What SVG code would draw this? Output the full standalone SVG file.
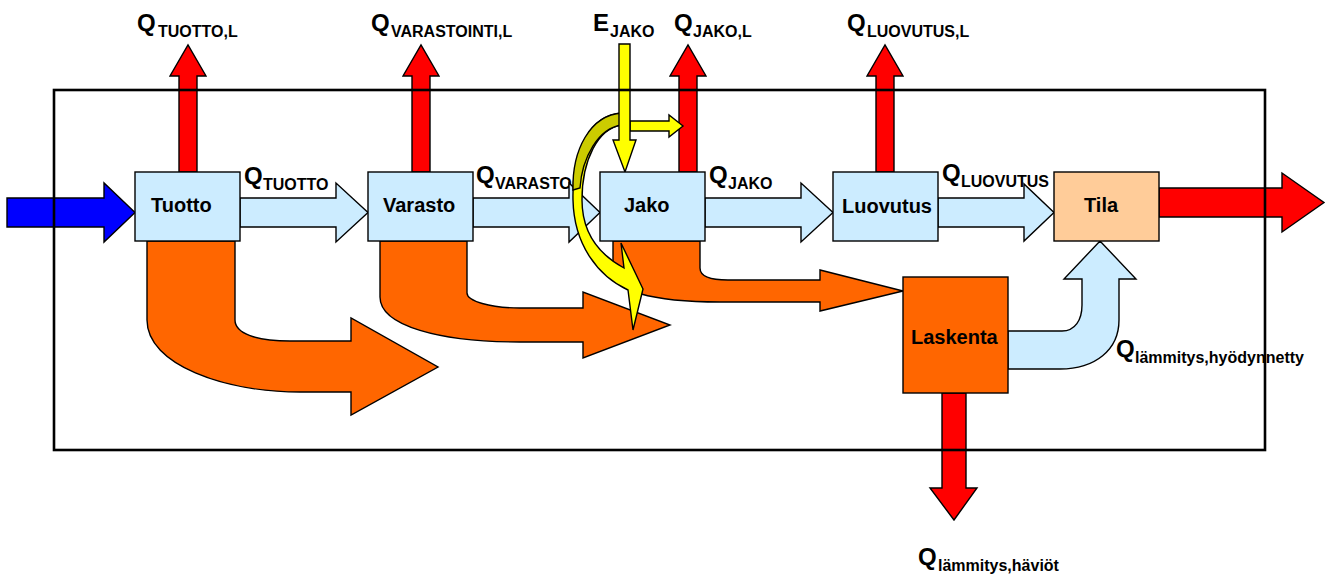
<svg xmlns="http://www.w3.org/2000/svg" width="1326" height="574" viewBox="0 0 1326 574">
<style>
  .s{stroke:#000;stroke-width:1.4;stroke-linejoin:miter}
  .lb{fill:#CCECFF}
  .or{fill:#FF6600}
  .rd{fill:#FF0000}
  .bl{fill:#0000FF}
  .ye{fill:#FFFF00}
  .ol{fill:#CCCC00}
  .box{stroke:#000;stroke-width:1.4}
  .bt{font-family:"Liberation Sans",Arial,sans-serif;font-weight:bold;font-size:20px;fill:#000}
  .q{font-family:"Liberation Sans",Arial,sans-serif;font-weight:bold;font-size:24px;fill:#000}
  .sub{font-size:16px}
</style>
<rect width="1326" height="574" fill="#fff"/>

<g id="labels">
  <text class="q" x="137" y="31">Q<tspan class="sub" x="158" y="37">TUOTTO,L</tspan></text>
  <text class="q" x="371" y="31">Q<tspan class="sub" x="391" y="37">VARASTOINTI,L</tspan></text>
  <text class="q" x="593" y="31">E<tspan class="sub" x="610" y="37">JAKO</tspan></text>
  <text class="q" x="674" y="31">Q<tspan class="sub" x="693" y="37">JAKO,L</tspan></text>
  <text class="q" x="847" y="31">Q<tspan class="sub" x="867" y="37">LUOVUTUS,L</tspan></text>
  <text class="q" x="244" y="184">Q<tspan class="sub" x="263" y="190">TUOTTO</tspan></text>
  <text class="q" x="476" y="183">Q<tspan class="sub" x="495" y="189">VARASTO</tspan></text>
  <text class="q" x="709" y="183">Q<tspan class="sub" x="728" y="189">JAKO</tspan></text>
  <text class="q" x="942" y="181">Q<tspan class="sub" x="961" y="187">LUOVUTUS</tspan></text>
  <text class="q" x="1116" y="357">Q<tspan class="sub" x="1135" y="363">lämmitys,hyödynnetty</tspan></text>
  <text class="q" x="918" y="565">Q<tspan class="sub" x="938" y="571">lämmitys,häviöt</tspan></text>
</g>

<g id="connectors">
  <path class="s or" d="M147,241 L147,320 C147,365 225,392 300,392 L351,392 L351,415 L438,367 L351,318 L351,341 L290,341 C255,341 235,333 235,320 L235,241 Z"/>
  <path class="s or" d="M380,241 L380,297 C380,326 440,342 520,342 L583,342 L583,358 L670,325 L583,292 L583,308 L520,308 C490,308 467,301 467,293 L467,241 Z"/>
  <path class="s or" d="M613,241 L613,272 C613,290 650,302 720,302 L820,302 L820,311 L903,291 L820,270 L820,280 L728,280 C710,280 700,276 700,268 L700,241 Z"/>
  <path class="s bl" d="M7,198 L104,198 L104,183 L135,212.5 L104,242 L104,227 L7,227 Z"/>
  <path class="s lb" d="M240,198 L336,198 L336,183 L368,212.5 L336,242 L336,227 L240,227 Z"/>
  <path class="s lb" d="M473,198 L569,198 L569,183 L600,212.5 L569,242 L569,227 L473,227 Z"/>
  <path class="s lb" d="M705,198 L801,198 L801,183 L833,212.5 L801,242 L801,227 L705,227 Z"/>
  <path class="s lb" d="M938,198 L1024,198 L1024,184 L1054,212.5 L1024,241 L1024,227 L938,227 Z"/>
  <path class="s lb" d="M1008,331 L1062,331 C1075,331 1082,320 1082,305 L1082,279 L1064,279 L1100,241 L1136,279 L1119,279 L1119,320 C1119,350 1095,369 1060,369 L1008,369 Z"/>
  <path class="s rd" d="M179,172 L179,76 L170,76 L188,45 L206,76 L197,76 L197,172 Z"/>
  <path class="s rd" d="M412,172 L412,76 L403,76 L421,45 L439,76 L430,76 L430,172 Z"/>
  <path class="s rd" d="M679,172 L679,76 L670,76 L688,45 L706,76 L697,76 L697,172 Z"/>
  <path class="s rd" d="M876,172 L876,76 L867,76 L885,45 L903,76 L894,76 L894,172 Z"/>
  <path class="s rd" d="M942,393 L942,488 L930,488 L954,520 L977,488 L966,488 L966,393 Z"/>
  <path class="s rd" d="M1159,188 L1282,188 L1282,173 L1324,202.5 L1282,232 L1282,217 L1159,217 Z"/>
  <path class="s ye" d="M622,113 C590,115 572,150 573,200 C574,245 598,276 628,290 L633,330 L643,289 L621,243 L624,268 C600,255 582,235 582,200 C582,160 598,128 622,125 Z"/>
  <path class="s ol" d="M622,113 C590,115 572,150 573,190 L580,188 C582,158 598,128 622,125 Z"/>
  <path class="s ye" d="M630,121 L669,121 L669,115 L683,126 L669,137 L669,131 L630,131 Z"/>
  <path class="s ye" d="M619,44 L630,44 L630,140 L636,140 L625,172 L613,140 L619,140 Z"/>
</g>

<g id="tuotto"><rect class="box lb" x="135" y="172" width="105" height="69"/><text class="bt" x="151" y="212">Tuotto</text></g>
<g id="varasto"><rect class="box lb" x="368" y="172" width="105" height="69"/><text class="bt" x="383" y="212">Varasto</text></g>
<g id="jako"><rect class="box lb" x="600" y="172" width="105" height="69"/><text class="bt" x="624" y="212">Jako</text></g>
<g id="luovutus"><rect class="box lb" x="833" y="172" width="105" height="69"/><text class="bt" x="842" y="213">Luovutus</text></g>
<g id="tila"><rect class="box" fill="#FFCC99" x="1054" y="172" width="105" height="69"/><text class="bt" x="1084" y="212">Tila</text></g>
<g id="laskenta"><rect class="box or" x="903" y="277" width="105" height="116"/><text class="bt" x="911" y="344">Laskenta</text></g>

<g id="boundary"><rect x="54" y="90" width="1211" height="360" fill="none" stroke="#000" stroke-width="2.6"/></g>
</svg>
